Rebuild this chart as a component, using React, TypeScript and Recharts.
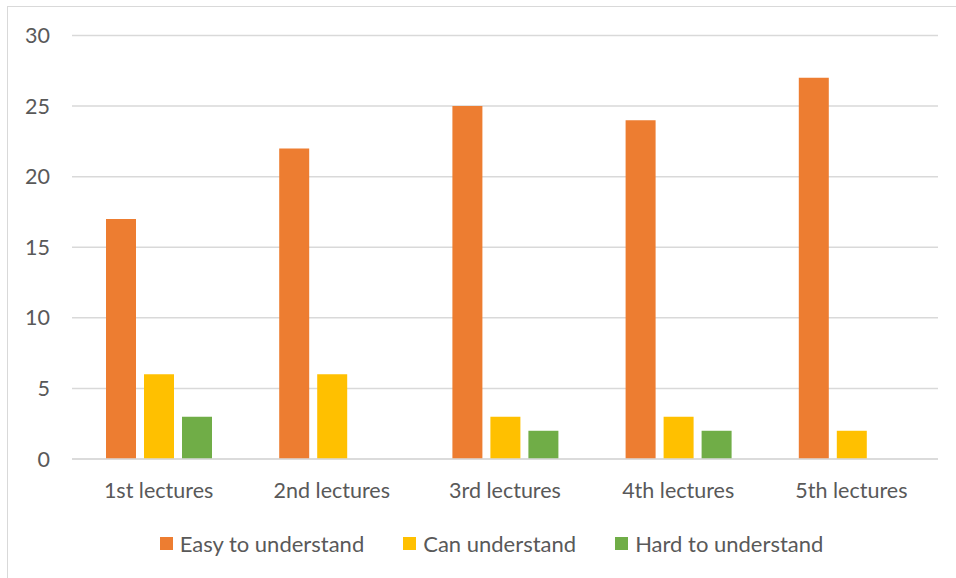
import React from "react";
import { BarChart, Bar, XAxis, YAxis, CartesianGrid, Legend } from "recharts";

const lectures = ["1st lectures", "2nd lectures", "3rd lectures", "4th lectures", "5th lectures"];
const easy = [17, 22, 25, 24, 27];
const can = [6, 6, 3, 3, 2];
const hard = [3, 0, 2, 2, 0];
const yTicks = [0, 5, 10, 15, 20, 25, 30];

const series = [
  { key: "easy", name: "Easy to understand", color: "#ED7D31" },
  { key: "can", name: "Can understand", color: "#FFC000" },
  { key: "hard", name: "Hard to understand", color: "#70AD47" },
];

const data = lectures.map((lecture, i) => ({
  lecture,
  easy: easy[i],
  can: can[i],
  hard: hard[i],
}));

const FONT = "Lato, 'Open Sans', sans-serif";
const TEXT = "#595959";

const LegendRow = () => (
  <div
    style={{
      display: "flex",
      justifyContent: "center",
      alignItems: "center",
      height: 39,
      gap: 39,
      fontFamily: FONT,
      fontSize: 22,
      color: TEXT,
    }}
  >
    {series.map((s) => (
      <div key={s.key} style={{ display: "flex", alignItems: "center" }}>
        <span style={{ width: 13, height: 13, background: s.color, display: "inline-block", marginRight: 7 }} />
        <span>{s.name}</span>
      </div>
    ))}
  </div>
);

export default function App() {
  return (
    <div style={{ position: "absolute", left: 0, top: 0, width: 956, height: 578, background: "#fff", overflow: "hidden" }}>
      <div
        style={{
          position: "absolute",
          left: 7,
          top: 6,
          width: 970,
          height: 590,
          border: "1px solid #d9d9d9",
          boxSizing: "border-box",
        }}
      />
      <div style={{ position: "absolute", left: 0, top: 0 }}>
        <BarChart
          width={956}
          height={578}
          data={data}
          margin={{ top: 35.5, right: 18, left: 22, bottom: 15.5 }}
          barSize={30}
          barGap={8}
        >
          <CartesianGrid vertical={false} stroke="#d9d9d9" strokeWidth={1.5} />
          <XAxis
            dataKey="lecture"
            axisLine={{ stroke: "#d9d9d9", strokeWidth: 1.5 }}
            tickLine={false}
            tickSize={0}
            tickMargin={24}
            height={64.5}
            tick={{ fill: TEXT, fontSize: 21.5, fontFamily: FONT }}
          />
          <YAxis
            domain={[0, 30]}
            ticks={yTicks}
            axisLine={false}
            tickLine={false}
            tickSize={0}
            tickMargin={22}
            width={50}
            tick={{ fill: TEXT, fontSize: 21.5, fontFamily: FONT }}
          />
          <Legend
            verticalAlign="bottom"
            height={39}
            wrapperStyle={{ left: 0, width: 983 }}
            content={() => <LegendRow />}
          />
          {series.map((s) => (
            <Bar key={s.key} dataKey={s.key} name={s.name} fill={s.color} isAnimationActive={false} />
          ))}
        </BarChart>
      </div>
    </div>
  );
}
